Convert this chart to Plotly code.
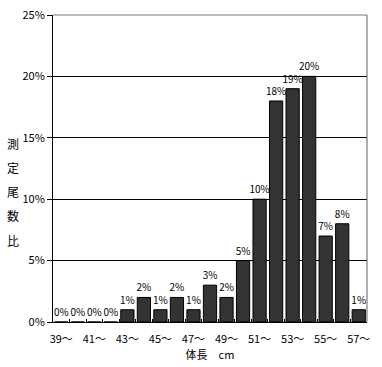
import plotly.graph_objects as go

categories = [f"{n}〜" for n in range(39, 58)]
values = [0, 0, 0, 0, 1, 2, 1, 2, 1, 3, 2, 5, 10, 18, 19, 20, 7, 8, 1]
tick_text = [c if i % 2 == 0 else "" for i, c in enumerate(categories)]
y_ticks = [0, 5, 10, 15, 20, 25]
y_tick_text = [f"{v}%" for v in y_ticks]
y_title_chars = ["測", "定", "尾", "数", "比"]

font_family = "Noto Sans CJK JP, Liberation Sans, sans-serif"

fig = go.Figure()
fig.add_trace(go.Bar(
    x=categories,
    y=values,
    marker=dict(color="#333333", line=dict(color="#000000", width=1)),
    text=[f"{v}%" for v in values],
    textposition="outside",
    constraintext="none",
    textfont=dict(size=10, color="#000000", family=font_family),
    cliponaxis=False,
    width=0.8,
))

fig.update_layout(
    template="none",
    width=382, height=367,
    margin=dict(l=53, r=15, t=15, b=45),
    paper_bgcolor="white",
    plot_bgcolor="white",
    showlegend=False,
    font=dict(family=font_family, size=11, color="#000000"),
)
fig.update_xaxes(
    type="category",
    tickmode="array",
    tickvals=categories,
    ticktext=tick_text,
    tickson="boundaries",
    ticks="inside",
    ticklen=3,
    tickcolor="#000000",
    tickangle=0,
    ticklabelstandoff=7,
    automargin=False,
    showline=True,
    linecolor="#000000",
    linewidth=1,
    showgrid=False,
    tickfont=dict(size=11),
    title=dict(text="体長　cm", font=dict(size=11), standoff=0),
)
fig.update_yaxes(
    range=[0, 25],
    tickmode="array",
    tickvals=y_ticks,
    ticktext=y_tick_text,
    ticks="outside",
    ticklen=5,
    tickcolor="#000000",
    automargin=False,
    showline=True,
    linecolor="#000000",
    linewidth=1,
    showgrid=True,
    gridcolor="#000000",
    gridwidth=1,
    zeroline=False,
    tickfont=dict(size=11),
)
# gray border top and right
fig.add_shape(type="line", xref="paper", yref="paper", x0=0, x1=1, y0=1, y1=1,
              line=dict(color="#7a7a7a", width=1.2), layer="above")
fig.add_shape(type="line", xref="paper", yref="paper", x0=1, x1=1, y0=0, y1=1,
              line=dict(color="#7a7a7a", width=1.2), layer="above")
for i, ch in enumerate(y_title_chars):
    fig.add_annotation(
        text=ch,
        xref="paper", yref="paper", x=-0.127, y=0.583 - i * 0.079,
        xanchor="center", yanchor="middle", showarrow=False,
        font=dict(size=12),
    )

fig.write_html("out.html", config={"displayModeBar": False},
               post_script="document.body.style.margin='0';")
